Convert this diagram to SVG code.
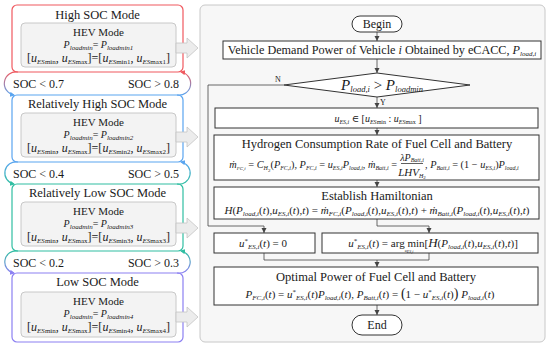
<svg xmlns="http://www.w3.org/2000/svg" width="550" height="346" viewBox="0 0 550 346" font-family="'Liberation Serif', 'Times New Roman', 'DejaVu Serif', serif">
<style>
text{font-family:'Liberation Serif','Times New Roman','DejaVu Serif',serif;fill:#1a1a1a}
.i{font-style:italic}
.sb{font-size:7px}
.ss{font-size:5px}
.tt{font-size:12.5px}
.f{font-size:11px}
.mode{fill:#fff;stroke-width:1.2}
.inner{fill:#f3f3f3;stroke:#c8c8c8;stroke-width:1}
.garrow{fill:#ececec;stroke:#c4c4c4;stroke-width:0.8}
.box{fill:#fff;stroke:#333;stroke-width:1}
.ln{fill:none;stroke:#444;stroke-width:0.8}
.arc{fill:none;stroke-width:1.2}
</style>
<defs>
<marker id="ah" markerUnits="userSpaceOnUse" markerWidth="6" markerHeight="6" refX="5" refY="3" orient="auto"><path d="M0,0.5 L5,3 L0,5.5 z" fill="#444"/></marker>
<marker id="mr" markerUnits="userSpaceOnUse" markerWidth="6" markerHeight="6" refX="4" refY="3" orient="auto"><path d="M0,0.5 L5,3 L0,5.5 z" fill="#f0595f"/></marker>
<marker id="mb" markerUnits="userSpaceOnUse" markerWidth="6" markerHeight="6" refX="4" refY="3" orient="auto"><path d="M0,0.5 L5,3 L0,5.5 z" fill="#5aa5f0"/></marker>
<marker id="mt" markerUnits="userSpaceOnUse" markerWidth="6" markerHeight="6" refX="4" refY="3" orient="auto"><path d="M0,0.5 L5,3 L0,5.5 z" fill="#30bea2"/></marker>
<marker id="mp" markerUnits="userSpaceOnUse" markerWidth="6" markerHeight="6" refX="4" refY="3" orient="auto"><path d="M0,0.5 L5,3 L0,5.5 z" fill="#8c80f2"/></marker>
<linearGradient id="g1" gradientUnits="userSpaceOnUse" x1="0" y1="72" x2="0" y2="95"><stop offset="0" stop-color="#f0595f"/><stop offset="1" stop-color="#5aa5f0"/></linearGradient>
<linearGradient id="g2" gradientUnits="userSpaceOnUse" x1="0" y1="162" x2="0" y2="184"><stop offset="0" stop-color="#5aa5f0"/><stop offset="1" stop-color="#30bea2"/></linearGradient>
<linearGradient id="g3" gradientUnits="userSpaceOnUse" x1="0" y1="251" x2="0" y2="273"><stop offset="0" stop-color="#30bea2"/><stop offset="1" stop-color="#8c80f2"/></linearGradient>
</defs>

<g id="mode-high">
<rect class="mode" x="12" y="5" width="171" height="67" rx="5" stroke="#f0595f"/>
<text class="tt" x="97.5" y="19" text-anchor="middle">High SOC Mode</text>
<rect class="inner" x="21" y="23" width="155" height="44" rx="4"/>
<text x="98.5" y="36" font-size="11" text-anchor="middle">HEV Mode</text>
<text x="98.5" y="48" font-size="10" text-anchor="middle"><tspan class="i">P</tspan><tspan class="sb i" dy="2">loadmin</tspan><tspan dy="-2">= </tspan><tspan class="i">P</tspan><tspan class="sb i" dy="2">loadmin1</tspan></text>
<text x="98.5" y="62" font-size="12" text-anchor="middle">[<tspan class="i">u</tspan><tspan class="sb" dy="2"><tspan class="i">ES</tspan>min</tspan><tspan dy="-2">, </tspan><tspan class="i">u</tspan><tspan class="sb" dy="2"><tspan class="i">ES</tspan>max</tspan><tspan dy="-2">]=[</tspan><tspan class="i">u</tspan><tspan class="sb" dy="2"><tspan class="i">ES</tspan>min1</tspan><tspan dy="-2">, </tspan><tspan class="i">u</tspan><tspan class="sb" dy="2"><tspan class="i">ES</tspan>max1</tspan><tspan dy="-2">]</tspan></text>
</g>
<g id="mode-rel-high">
<rect class="mode" x="12" y="95" width="171" height="67" rx="5" stroke="#5aa5f0"/>
<text class="tt" x="97.5" y="108" text-anchor="middle">Relatively High SOC Mode</text>
<rect class="inner" x="21" y="113" width="155" height="44" rx="4"/>
<text x="98.5" y="126" font-size="11" text-anchor="middle">HEV Mode</text>
<text x="98.5" y="138" font-size="10" text-anchor="middle"><tspan class="i">P</tspan><tspan class="sb i" dy="2">loadmin</tspan><tspan dy="-2">= </tspan><tspan class="i">P</tspan><tspan class="sb i" dy="2">loadmin2</tspan></text>
<text x="98.5" y="152" font-size="12" text-anchor="middle">[<tspan class="i">u</tspan><tspan class="sb" dy="2"><tspan class="i">ES</tspan>min</tspan><tspan dy="-2">, </tspan><tspan class="i">u</tspan><tspan class="sb" dy="2"><tspan class="i">ES</tspan>max</tspan><tspan dy="-2">]=[</tspan><tspan class="i">u</tspan><tspan class="sb" dy="2"><tspan class="i">ES</tspan>min2</tspan><tspan dy="-2">, </tspan><tspan class="i">u</tspan><tspan class="sb" dy="2"><tspan class="i">ES</tspan>max2</tspan><tspan dy="-2">]</tspan></text>
</g>
<g id="mode-rel-low">
<rect class="mode" x="12" y="184" width="171" height="67" rx="5" stroke="#30bea2"/>
<text class="tt" x="97.5" y="197" text-anchor="middle">Relatively Low SOC Mode</text>
<rect class="inner" x="21" y="202" width="155" height="44" rx="4"/>
<text x="98.5" y="215" font-size="11" text-anchor="middle">HEV Mode</text>
<text x="98.5" y="227" font-size="10" text-anchor="middle"><tspan class="i">P</tspan><tspan class="sb i" dy="2">loadmin</tspan><tspan dy="-2">= </tspan><tspan class="i">P</tspan><tspan class="sb i" dy="2">loadmin3</tspan></text>
<text x="98.5" y="241" font-size="12" text-anchor="middle">[<tspan class="i">u</tspan><tspan class="sb" dy="2"><tspan class="i">ES</tspan>min</tspan><tspan dy="-2">, </tspan><tspan class="i">u</tspan><tspan class="sb" dy="2"><tspan class="i">ES</tspan>max</tspan><tspan dy="-2">]=[</tspan><tspan class="i">u</tspan><tspan class="sb" dy="2"><tspan class="i">ES</tspan>min3</tspan><tspan dy="-2">, </tspan><tspan class="i">u</tspan><tspan class="sb" dy="2"><tspan class="i">ES</tspan>max3</tspan><tspan dy="-2">]</tspan></text>
</g>
<g id="mode-low">
<rect class="mode" x="12" y="273" width="171" height="69" rx="5" stroke="#8c80f2"/>
<text class="tt" x="97.5" y="286" text-anchor="middle">Low SOC Mode</text>
<rect class="inner" x="21" y="292" width="155" height="45" rx="4"/>
<text x="98.5" y="305" font-size="11" text-anchor="middle">HEV Mode</text>
<text x="98.5" y="317" font-size="10" text-anchor="middle"><tspan class="i">P</tspan><tspan class="sb i" dy="2">loadmin</tspan><tspan dy="-2">= </tspan><tspan class="i">P</tspan><tspan class="sb i" dy="2">loadmin4</tspan></text>
<text x="98.5" y="331" font-size="12" text-anchor="middle">[<tspan class="i">u</tspan><tspan class="sb" dy="2"><tspan class="i">ES</tspan>min</tspan><tspan dy="-2">, </tspan><tspan class="i">u</tspan><tspan class="sb" dy="2"><tspan class="i">ES</tspan>max</tspan><tspan dy="-2">]=[</tspan><tspan class="i">u</tspan><tspan class="sb" dy="2"><tspan class="i">ES</tspan>min4</tspan><tspan dy="-2">, </tspan><tspan class="i">u</tspan><tspan class="sb" dy="2"><tspan class="i">ES</tspan>max4</tspan><tspan dy="-2">]</tspan></text>
</g>

<rect x="200" y="5" width="345" height="337" rx="5" fill="#f7f7f7" stroke="#c8c8c8" stroke-width="1"/>

<g id="connectors">
<path class="arc" d="M18,72 A11.5,11.5 0 0 0 14,95" stroke="url(#g1)" marker-end="url(#mb)"/>
<path class="arc" d="M177,95 A11.5,11.5 0 0 0 181,72" stroke="url(#g1)" marker-end="url(#mr)"/>
<path class="arc" d="M18,162 A11,11 0 0 0 14,184" stroke="url(#g2)" marker-end="url(#mt)"/>
<path class="arc" d="M177,184 A11,11 0 0 0 181,162" stroke="url(#g2)" marker-end="url(#mb)"/>
<path class="arc" d="M18,251 A11,11 0 0 0 14,273" stroke="url(#g3)" marker-end="url(#mp)"/>
<path class="arc" d="M177,273 A11,11 0 0 0 181,251" stroke="url(#g3)" marker-end="url(#mt)"/>
<path class="garrow" d="M176,43 H187 V38 L198,48 L187,58 V53 H176 Z"/>
<path class="garrow" d="M176,132 H187 V127 L198,137 L187,147 V142 H176 Z"/>
<path class="garrow" d="M176,223 H187 V218 L198,228 L187,238 V233 H176 Z"/>
<path class="garrow" d="M176,312 H187 V307 L198,317 L187,327 V322 H176 Z"/>
<path class="ln" d="M377,32 V41" marker-end="url(#ah)"/>
<path class="ln" d="M377,59 V73" marker-end="url(#ah)"/>
<path class="ln" d="M377,97 V108" marker-end="url(#ah)"/>
<path class="ln" d="M284,85 H208 V226 H264 V233" marker-end="url(#ah)"/>
<path class="ln" d="M377,128 V135" marker-end="url(#ah)"/>
<path class="ln" d="M377,180 V187" marker-end="url(#ah)"/>
<path class="ln" d="M377,219 V226 H429 V233" marker-end="url(#ah)"/>
<path class="ln" d="M264,253 V260 H429 V253"/>
<path class="ln" d="M377,260 V267" marker-end="url(#ah)"/>
<path class="ln" d="M377,305 V315" marker-end="url(#ah)"/>
<text x="275" y="82" font-size="8">N</text>
<text x="380" y="105" font-size="8">Y</text>
</g>

<g id="soc-labels" font-size="12">
<text x="13" y="88">SOC &lt; 0.7</text>
<text x="179" y="88" text-anchor="end">SOC &gt; 0.8</text>
<text x="13" y="177.5">SOC &lt; 0.4</text>
<text x="179" y="177.5" text-anchor="end">SOC &gt; 0.5</text>
<text x="13" y="266.5">SOC &lt; 0.2</text>
<text x="179" y="266.5" text-anchor="end">SOC &gt; 0.3</text>
</g>

<g id="begin">
<rect class="box" x="352" y="16" width="50" height="16" rx="8"/>
<text x="377" y="28" font-size="12" text-anchor="middle">Begin</text>
</g>
<g id="demand">
<rect class="box" x="223" y="41" width="318" height="18"/>
<text x="382" y="54" font-size="12.2" text-anchor="middle">Vehicle Demand Power of Vehicle <tspan class="i">i</tspan> Obtained by eCACC, <tspan class="i">P</tspan><tspan class="sb i" dy="2">load,i</tspan></text>
</g>
<g id="decision">
<path d="M284,85 L377,73 L470,85 L377,97 Z" fill="#fff" stroke="#333" stroke-width="1"/>
<text x="382" y="90" font-size="15" text-anchor="middle"><tspan class="i">P</tspan><tspan class="i" font-size="8.5" dy="2">load,i</tspan><tspan dy="-2"> &gt; </tspan><tspan class="i">P</tspan><tspan class="i" font-size="8.5" dy="2">loadmin</tspan></text>
</g>
<g id="range">
<rect class="box" x="215" y="108" width="323" height="20"/>
<text x="378" y="122" font-size="10" text-anchor="middle"><tspan class="i">u</tspan><tspan class="i" font-size="6" dy="2">ES,i</tspan><tspan dy="-2"> ∈ [</tspan><tspan class="i">u</tspan><tspan font-size="6" dy="2"><tspan class="i">ES</tspan>min</tspan><tspan dy="-2"> : </tspan><tspan class="i">u</tspan><tspan font-size="6" dy="2"><tspan class="i">ES</tspan>max</tspan><tspan dy="-2"> ]</tspan></text>
</g>
<g id="hydrogen">
<rect class="box" x="214" y="135" width="325" height="45"/>
<text class="tt" x="377" y="147.5" text-anchor="middle">Hydrogen Consumption Rate of Fuel Cell and Battery</text>
<text x="397" y="168" font-size="10.3" text-anchor="end"><tspan class="i">ṁ</tspan><tspan class="ss i" font-size="6" dy="2">FC,i</tspan><tspan dy="-2"> = </tspan><tspan class="i">C</tspan><tspan class="i" font-size="6" dy="2">H</tspan><tspan class="ss" dy="1.5">2</tspan><tspan dy="-3.5">(</tspan><tspan class="i">P</tspan><tspan class="i" font-size="6" dy="2">FC,i</tspan><tspan dy="-2">), </tspan><tspan class="i">P</tspan><tspan class="i" font-size="6" dy="2">FC,i</tspan><tspan dy="-2"> = </tspan><tspan class="i">u</tspan><tspan class="i" font-size="6" dy="2">ES,i</tspan><tspan class="i" dy="-2">P</tspan><tspan class="i" font-size="6" dy="2">load,i</tspan><tspan dy="-2">, </tspan><tspan class="i">ṁ</tspan><tspan class="i" font-size="6" dy="2">Batt,i</tspan><tspan dy="-2"> =</tspan></text>
<text x="412" y="160.5" font-size="10" text-anchor="middle"><tspan class="i">λP</tspan><tspan class="i" font-size="6" dy="1.5">Batt,i</tspan></text>
<path d="M401,163.5 H423" stroke="#1a1a1a" stroke-width="0.7"/>
<text class="f" x="412" y="175.5" text-anchor="middle"><tspan class="i">LHV</tspan><tspan class="i" font-size="6" dy="2">H</tspan><tspan class="ss" dy="1.5">2</tspan></text>
<text x="425" y="168" font-size="10.3"><tspan>, </tspan><tspan class="i">P</tspan><tspan class="i" font-size="6" dy="2">Batt,i</tspan><tspan dy="-2"> = (1 − </tspan><tspan class="i">u</tspan><tspan class="i" font-size="6" dy="2">ES,i</tspan><tspan dy="-2">)</tspan><tspan class="i">P</tspan><tspan class="i" font-size="6" dy="2">load,i</tspan></text>
</g>
<g id="hamiltonian">
<rect class="box" x="214" y="187" width="325" height="32"/>
<text class="tt" x="377" y="200" text-anchor="middle">Establish Hamiltonian</text>
<text class="f" x="377" y="214" text-anchor="middle"><tspan class="i">H</tspan><tspan>(</tspan><tspan class="i">P</tspan><tspan class="sb i" dy="2">load,i</tspan><tspan dy="-2">(</tspan><tspan class="i">t</tspan><tspan>),</tspan><tspan class="i">u</tspan><tspan class="sb i" dy="2">ES,i</tspan><tspan dy="-2">(</tspan><tspan class="i">t</tspan><tspan>),</tspan><tspan class="i">t</tspan><tspan>) = </tspan><tspan class="i">ṁ</tspan><tspan class="sb i" dy="2">FC,i</tspan><tspan dy="-2">(</tspan><tspan class="i">P</tspan><tspan class="sb i" dy="2">load,i</tspan><tspan dy="-2">(</tspan><tspan class="i">t</tspan><tspan>),</tspan><tspan class="i">u</tspan><tspan class="sb i" dy="2">ES,i</tspan><tspan dy="-2">(</tspan><tspan class="i">t</tspan><tspan>),</tspan><tspan class="i">t</tspan><tspan>) + </tspan><tspan class="i">ṁ</tspan><tspan class="sb i" dy="2">Batt,i</tspan><tspan dy="-2">(</tspan><tspan class="i">P</tspan><tspan class="sb i" dy="2">load,i</tspan><tspan dy="-2">(</tspan><tspan class="i">t</tspan><tspan>),</tspan><tspan class="i">u</tspan><tspan class="sb i" dy="2">ES,i</tspan><tspan dy="-2">(</tspan><tspan class="i">t</tspan><tspan>),</tspan><tspan class="i">t</tspan><tspan>)</tspan></text>
</g>
<g id="u-zero">
<rect class="box" x="214" y="233" width="101" height="20"/>
<text class="f" x="263" y="247" text-anchor="middle"><tspan class="i">u</tspan><tspan class="sb" dy="-4">*</tspan><tspan class="sb i" dy="6">ES,i</tspan><tspan dy="-2">(</tspan><tspan class="i">t</tspan><tspan>) = 0</tspan></text>
</g>
<g id="u-argmin">
<rect class="box" x="322" y="233" width="216" height="20"/>
<text class="f" x="433" y="246.5" text-anchor="middle"><tspan class="i">u</tspan><tspan class="sb" dy="-4">*</tspan><tspan class="sb i" dy="6">ES,i</tspan><tspan dy="-2">(</tspan><tspan class="i">t</tspan><tspan>) = arg min[</tspan><tspan class="i" font-size="13">H</tspan><tspan>(</tspan><tspan class="i">P</tspan><tspan class="sb i" dy="2">load,i</tspan><tspan dy="-2">(</tspan><tspan class="i">t</tspan><tspan>),</tspan><tspan class="i">u</tspan><tspan class="sb i" dy="2">ES,i</tspan><tspan dy="-2">(</tspan><tspan class="i">t</tspan><tspan>),</tspan><tspan class="i">t</tspan><tspan>)]</tspan></text>
<text x="409" y="252.3" font-size="4" class="i" text-anchor="middle">u<tspan dy="0.6">ES,i</tspan></text>
</g>
<g id="optimal">
<rect class="box" x="214" y="267" width="324" height="38"/>
<text class="tt" x="376" y="281" text-anchor="middle">Optimal Power of Fuel Cell and Battery</text>
<text class="f" x="370" y="298" text-anchor="middle"><tspan class="i">P</tspan><tspan class="sb i" dy="2">FC,i</tspan><tspan dy="-2">(</tspan><tspan class="i">t</tspan><tspan>) = </tspan><tspan class="i">u</tspan><tspan class="sb" dy="-4">*</tspan><tspan class="sb i" dy="6">ES,i</tspan><tspan dy="-2">(</tspan><tspan class="i">t</tspan><tspan>)</tspan><tspan class="i">P</tspan><tspan class="sb i" dy="2">load,i</tspan><tspan dy="-2">(</tspan><tspan class="i">t</tspan><tspan>), </tspan><tspan class="i">P</tspan><tspan class="sb i" dy="2">Batt,i</tspan><tspan dy="-2">(</tspan><tspan class="i">t</tspan><tspan>) = </tspan><tspan font-size="14">(</tspan><tspan>1 − </tspan><tspan class="i">u</tspan><tspan class="sb" dy="-4">*</tspan><tspan class="sb i" dy="6">ES,i</tspan><tspan dy="-2">(</tspan><tspan class="i">t</tspan><tspan>)</tspan><tspan font-size="14">)</tspan><tspan> </tspan><tspan class="i">P</tspan><tspan class="sb i" dy="2">load,i</tspan><tspan dy="-2">(</tspan><tspan class="i">t</tspan><tspan>)</tspan></text>
</g>
<g id="end">
<rect class="box" x="352" y="315" width="50" height="20" rx="10"/>
<text x="377" y="329" font-size="12" text-anchor="middle">End</text>
</g>
</svg>
